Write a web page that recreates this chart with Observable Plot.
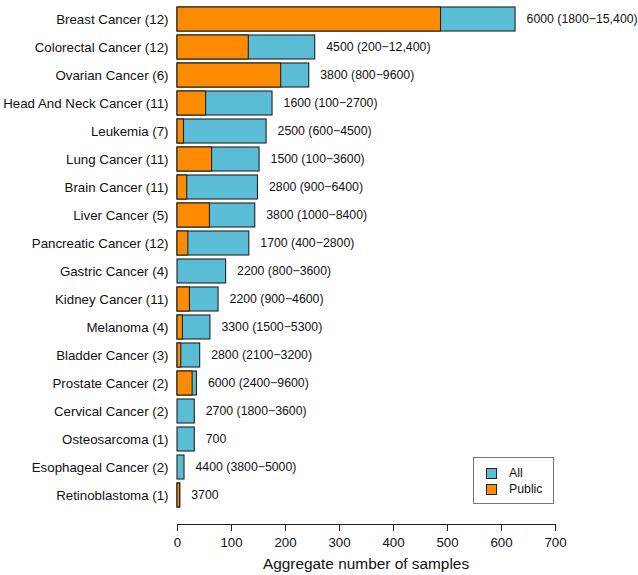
<!DOCTYPE html>
<html>
<head>
<meta charset="utf-8">
<script src="https://cdn.jsdelivr.net/npm/d3@7"></script>
<script src="https://cdn.jsdelivr.net/npm/@observablehq/plot@0.6"></script>
<style>
  html, body { margin: 0; padding: 0; background: #fff; }
  #wrap { position: relative; width: 638px; height: 575px; font-family: "Liberation Sans", Arial, sans-serif; }
  #legend { position: absolute; left: 473px; top: 457px; width: 81px; height: 47px; border: 1px solid #777; box-sizing: border-box; font-size: 12.3px; color: #111; }
  .li { position: absolute; left: 12px; display: flex; align-items: center; }
  .sw { width: 9px; height: 9px; border: 1px solid #222; margin-right: 12px; }
  #xtitle { position: absolute; left: 177px; width: 378px; top: 555px; text-align: center; font-size: 15.4px; color: #111; }
</style>
</head>
<body>
<div id="wrap">
  <div id="chart"></div>
  <div id="legend">
    <div class="li" style="top:8px"><div class="sw" style="background:#5BBCD6"></div><span>All</span></div>
    <div class="li" style="top:24px"><div class="sw" style="background:#FF8C00"></div><span>Public</span></div>
  </div>
  <div id="xtitle">Aggregate number of samples</div>
</div>
<script>
const categories = [
  "Breast Cancer (12)", "Colorectal Cancer (12)", "Ovarian Cancer (6)",
  "Head And Neck Cancer (11)", "Leukemia (7)", "Lung Cancer (11)",
  "Brain Cancer (11)", "Liver Cancer (5)", "Pancreatic Cancer (12)",
  "Gastric Cancer (4)", "Kidney Cancer (11)", "Melanoma (4)",
  "Bladder Cancer (3)", "Prostate Cancer (2)", "Cervical Cancer (2)",
  "Osteosarcoma (1)", "Esophageal Cancer (2)", "Retinoblastoma (1)"
];
const allSamples = [626, 255, 244, 176, 165, 152, 149, 144, 133, 90, 76, 61, 42, 36, 32, 32, 13, 5];
const publicSamples = [488, 132, 192, 53, 12, 64, 18, 60, 20, 0, 23, 10, 7, 28, 0, 0, 0, 5];
const valueLabels = [
  "6000 (1800\u221215,400)", "4500 (200\u221212,400)", "3800 (800\u22129600)",
  "1600 (100\u22122700)", "2500 (600\u22124500)", "1500 (100\u22123600)",
  "2800 (900\u22126400)", "3800 (1000\u22128400)", "1700 (400\u22122800)",
  "2200 (800\u22123600)", "2200 (900\u22124600)", "3300 (1500\u22125300)",
  "2800 (2100\u22123200)", "6000 (2400\u22129600)", "2700 (1800\u22123600)",
  "700", "4400 (3800\u22125000)", "3700"
];
const xTicks = [0, 100, 200, 300, 400, 500, 600, 700];

const data = categories.map((c, i) => ({
  cat: c, all: allSamples[i], pub: publicSamples[i], label: valueLabels[i]
}));

const chart = Plot.plot({
  width: 638,
  height: 575,
  marginLeft: 177,
  marginRight: 83,
  marginTop: 1,
  marginBottom: 51,
  style: { fontFamily: "'Liberation Sans', Arial, sans-serif", color: "#111", background: "transparent" },
  x: { domain: [0, 700], ticks: xTicks, label: null },
  y: { domain: categories, range: [1, 512], paddingInner: 0.16, paddingOuter: 0, label: null },
  marks: [
    Plot.frame({ anchor: "bottom", stroke: "#222" }),
    Plot.axisX({ ticks: xTicks, tickSize: 7, tickPadding: 6, fontSize: 13.3, label: null, stroke: "#222" }),
    Plot.axisY({ tickSize: 0, tickPadding: 9, fontSize: 13.3, label: null }),
    Plot.barX(data, { y: "cat", x: "all", fill: "#5BBCD6", stroke: "#222", strokeWidth: 1.1 }),
    Plot.barX(data.filter(d => d.pub > 0), { y: "cat", x: "pub", fill: "#FF8C00", stroke: "#222", strokeWidth: 1.1 }),
    Plot.text(data, { y: "cat", x: "all", text: "label", dx: 11, textAnchor: "start", fontSize: 12.3, fill: "#111" })
  ]
});
document.getElementById("chart").appendChild(chart);
</script>
</body>
</html>
